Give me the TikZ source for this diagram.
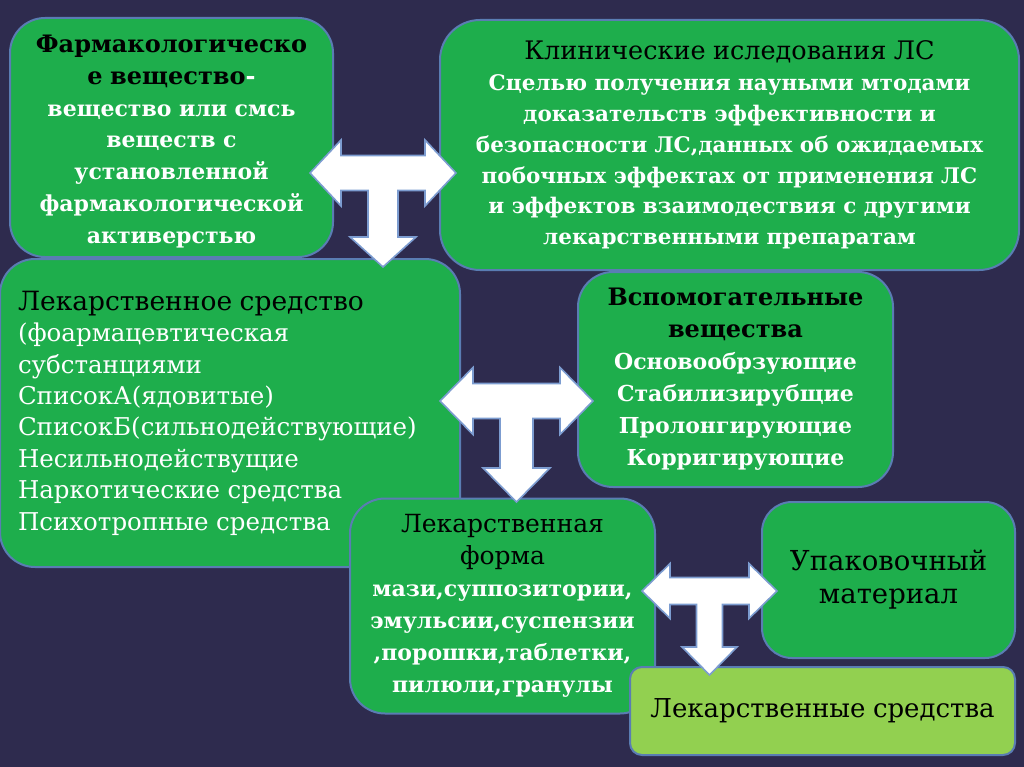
\documentclass[tikz,border=0pt]{standalone}
\usepackage{fontspec}
\setmainfont{DejaVu Serif}
\definecolor{bgc}{HTML}{2E2B4E}
\definecolor{gboxc}{HTML}{1EAE4C}
\definecolor{lgboxc}{HTML}{92D050}
\definecolor{bordc}{HTML}{5A7DB3}
\definecolor{arrbc}{HTML}{7C9CD0}
\newcommand{\tarrowshape}[9]{%
  \filldraw[tarrow] (#1-#3,#2) -- (#1-#3+#4,#2-#5) -- (#1-#3+#4,#2-#6)
    -- (#1+#3-#4,#2-#6) -- (#1+#3-#4,#2-#5) -- (#1+#3,#2)
    -- (#1+#3-#4,#2+#5) -- (#1+#3-#4,#2+#6) -- (#1+#7,#2+#6)
    -- (#1+#7,#8) -- (#1+#5,#8) -- (#1,#9) -- (#1-#5,#8) -- (#1-#7,#8)
    -- (#1-#7,#2+#6) -- (#1-#3+#4,#2+#6) -- (#1-#3+#4,#2+#5) -- cycle;}
\newcommand{\wsp}{\spaceskip=7.5pt\relax\xspaceskip=7.5pt\relax}
\begin{document}
\begin{tikzpicture}[x=1pt,y=-1pt,
  box/.style={draw=bordc, line width=2pt, fill=gboxc, rounded corners=35pt,
    inner sep=0pt, align=center, text=black},
  tarrow/.style={fill=white, draw=arrbc, line width=1.6pt, line join=miter}]
\fill[bgc] (0,0) rectangle (1024,767);
\useasboundingbox (0,0) rectangle (1024,767);

\node[box, minimum width=323pt, minimum height=239pt, text width=318pt] (fa) at (171.5,137.5)
  {\fontsize{22}{31.8}\selectfont\bfseries\wsp
   {\fontsize{24}{31.8}\selectfont Фармакологическо\\ е вещество{\color{white}-}}\\
   \color{white} вещество или смсь\\ веществ с\\ установленной\\ фармакологической\\ активерстью\par
   \vspace*{-8pt}};

\node[box, rounded corners=40pt, minimum width=579pt, minimum height=250pt, text width=570pt] (kl) at (729.5,145)
  {\fontsize{21.5}{30.8}\selectfont\wsp
   {\fontsize{25.5}{30.8}\selectfont Клинические иследования ЛС}\\
   \bfseries\color{white} Сцелью получения науными мтодами\\ доказательств эффективности и\\
   безопасности ЛС,данных об ожидаемых\\ побочных эффектах от применения ЛС\\
   и эффектов взаимодествия с другими\\ лекарственными препаратам\par};

\node[box, minimum width=460pt, minimum height=308pt, text width=424pt, align=left] (ls) at (230,413)
  {\fontsize{24.5}{31.4}\selectfont\wsp
   {\fontsize{26.5}{31.4}\selectfont Лекарственное средство}\\
   \color{white} (фоармацевтическая\\ субстанциями\\ СписокА(ядовитые)\\
   СписокБ(сильнодействующие)\\ Несильнодействущие\\ Наркотические средства\\ Психотропные средства\par};

\node[box, minimum width=315pt, minimum height=215pt, text width=305pt] (vs) at (735.5,379.5)
  {\fontsize{22}{32}\selectfont\bfseries\wsp
   {\fontsize{24}{32}\selectfont Вспомогательные\\ вещества}\\
   \color{white} Основообрзующие\\ Стабилизирубщие\\ Пролонгирующие\\ Корригирующие\par};

\node[box, minimum width=305pt, minimum height=215pt, text width=300pt] (lf) at (502.5,606)
  {\fontsize{22}{32}\selectfont\wsp
   {\fontsize{25}{32}\selectfont Лекарственная\\ форма}\\
   \bfseries\color{white} мази,суппозитории,\\ эмульсии,суспензии\\ ,порошки,таблетки,\\ пилюли,гранулы\par};

\node[box, rounded corners=30pt, minimum width=253pt, minimum height=156pt, text width=245pt] (up) at (888.5,580)
  {\fontsize{27.5}{33}\selectfont\wsp Упаковочный\\ материал\par};

\node[box, fill=lgboxc, rounded corners=12pt, minimum width=385pt, minimum height=88pt, text width=375pt] (lsr) at (822.5,711)
  {\fontsize{26}{33}\selectfont\wsp Лекарственные средства\par};

\tarrowshape{383}{173}{73}{31}{33}{17.5}{15}{237}{267}
\tarrowshape{516.5}{401}{76.5}{33}{33.5}{17.5}{16.5}{468}{502}
\tarrowshape{709.5}{591}{67.5}{28}{27.5}{13.5}{13}{647}{675}
\end{tikzpicture}
\end{document}
